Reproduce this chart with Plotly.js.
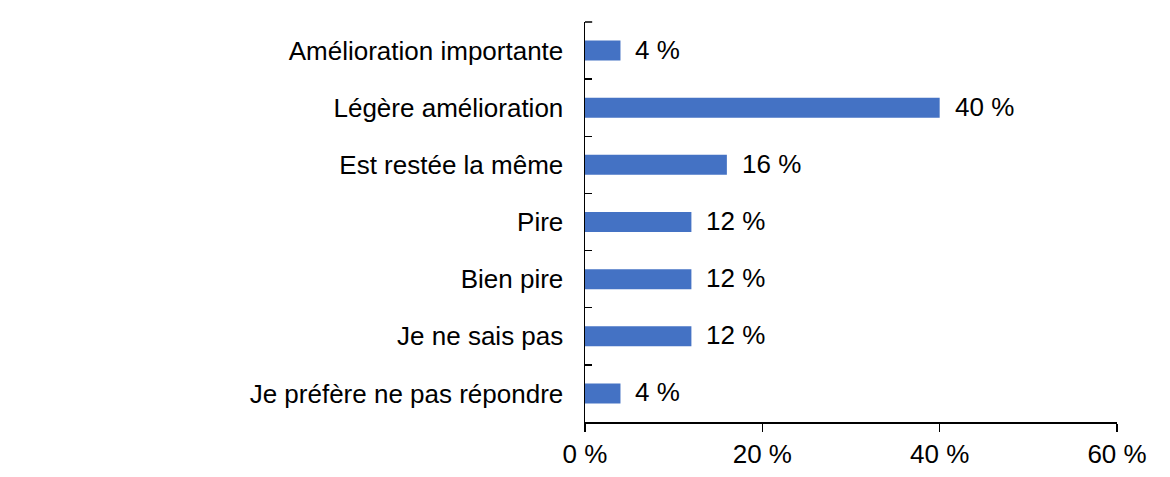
<!DOCTYPE html>
<html>
<head>
<meta charset="utf-8">
<script src="https://cdn.plot.ly/plotly-3.0.1.min.js"></script>
<style>html,body{margin:0;padding:0;background:#fff}#chart{width:1170px;height:477px}</style>
</head>
<body>
<div id="chart"></div>
<script>
const categories = [
  "Amélioration importante",
  "Légère amélioration",
  "Est restée la même",
  "Pire",
  "Bien pire",
  "Je ne sais pas",
  "Je préfère ne pas répondre"
];
const values = [4, 40, 16, 12, 12, 12, 4];
const xTickVals = [0, 20, 40, 60];
const xTickText = ["0 %", "20 %", "40 %", "60 %"];

const FONT = "Liberation Sans, Arial, sans-serif";
const FS = 26;

const trace = {
  type: "bar",
  orientation: "h",
  x: values,
  y: categories,
  marker: {color: "#4472C4"},
  width: 0.35,
  hoverinfo: "none"
};

const annotations = values.map((v, i) => ({
  x: v, y: categories[i], xref: "x", yref: "y",
  text: v + " %", showarrow: false, xanchor: "left", yanchor: "middle",
  xshift: 13, yshift: 1, font: {family: FONT, size: FS, color: "#000"}
}));

const layout = {
  width: 1170, height: 477,
  margin: {l: 585, r: 53, t: 22, b: 55, pad: 0},
  paper_bgcolor: "#fff", plot_bgcolor: "#fff",
  showlegend: false,
  font: {family: FONT, size: FS, color: "#000"},
  xaxis: {
    range: [0, 60], tickvals: xTickVals, ticktext: xTickText,
    showgrid: false, zeroline: false,
    showline: true, linecolor: "#000", linewidth: 1.5,
    ticks: "outside", ticklen: 8, tickwidth: 1.5, tickcolor: "#000",
    tickfont: {family: FONT, size: FS, color: "#000"},
    fixedrange: true
  },
  yaxis: {
    type: "category", range: [6.5, -0.5],
    showgrid: false, zeroline: false,
    showline: true, linecolor: "#000", linewidth: 1.5,
    ticks: "inside", tickson: "boundaries", ticklen: 7, tickwidth: 1.5, tickcolor: "#000",
    ticklabelstandoff: 15,
    tickfont: {family: FONT, size: FS, color: "#000"},
    fixedrange: true
  },
  shapes: [{
    type: "line", xref: "paper", yref: "paper",
    x0: 0, x1: 0.0135, y0: 1, y1: 1,
    line: {color: "#000", width: 1.5}
  }],
  annotations: annotations
};

Plotly.newPlot("chart", [trace], layout, {displayModeBar: false, staticPlot: true});
</script>
</body>
</html>
